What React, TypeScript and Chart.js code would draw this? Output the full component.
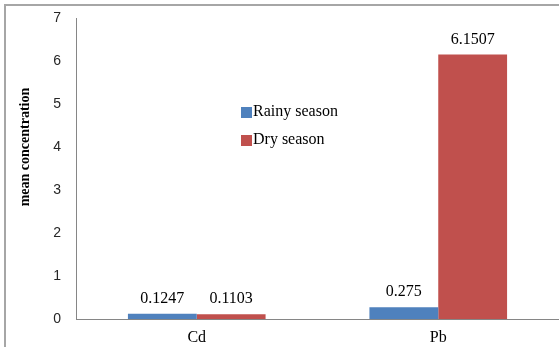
import React, { useEffect, useRef } from "react";
import { Chart, registerables } from "chart.js";

Chart.register(...registerables);

const categories = ["Cd", "Pb"];
const rainyValues = [0.1247, 0.275];
const dryValues = [0.1103, 6.1507];
const seriesNames = ["Rainy season", "Dry season"];
const seriesColors = ["#4F81BD", "#C0504D"];
const yTicks = [0, 1, 2, 3, 4, 5, 6, 7];
const yTitle = "mean concentration";

const SERIF = "'Liberation Serif', 'Times New Roman', serif";
const SANS = "'Liberation Sans', Arial, sans-serif";

// Frame, rotated axis title, in-plot legend and value labels
const decorations = {
  id: "decorations",
  beforeDraw(chart: any) {
    const ctx = chart.ctx;
    ctx.save();
    ctx.strokeStyle = "#A6A6A6";
    ctx.lineWidth = 2;
    ctx.beginPath();
    ctx.moveTo(4, 5);
    ctx.lineTo(chart.width, 5);
    ctx.moveTo(5, 4);
    ctx.lineTo(5, chart.height);
    ctx.stroke();
    ctx.restore();
  },
  afterDatasetsDraw(chart: any) {
    const ctx = chart.ctx;
    ctx.save();
    // value labels above bars
    ctx.font = `16px ${SERIF}`;
    ctx.fillStyle = "#000";
    ctx.textAlign = "center";
    ctx.textBaseline = "bottom";
    chart.data.datasets.forEach((ds: any, di: number) => {
      const meta = chart.getDatasetMeta(di);
      meta.data.forEach((bar: any, i: number) => {
        ctx.fillText(String(ds.data[i]), bar.x, bar.y - 7);
      });
    });

    // legend
    ctx.textAlign = "left";
    ctx.textBaseline = "middle";
    chart.data.datasets.forEach((ds: any, di: number) => {
      const y = 112 + di * 28;
      ctx.fillStyle = ds.backgroundColor;
      ctx.fillRect(241, y - 5, 11, 11);
      ctx.fillStyle = "#000";
      ctx.fillText(ds.label, 253, y);
    });

    // y axis title
    ctx.translate(25, 147);
    ctx.rotate(-Math.PI / 2);
    ctx.font = `bold 14px ${SERIF}`;
    ctx.textAlign = "center";
    ctx.textBaseline = "middle";
    ctx.fillStyle = "#000";
    ctx.fillText(yTitle, 0, 0);
    ctx.restore();
  },
};

export default function App() {
  const canvasRef = useRef<HTMLCanvasElement | null>(null);

  useEffect(() => {
    if (!canvasRef.current) return;
    const chart = new Chart(canvasRef.current, {
      type: "bar",
      data: {
        labels: categories,
        datasets: [
          {
            label: seriesNames[0],
            data: rainyValues,
            backgroundColor: seriesColors[0],
            categoryPercentage: 0.57,
            barPercentage: 1,
          },
          {
            label: seriesNames[1],
            data: dryValues,
            backgroundColor: seriesColors[1],
            categoryPercentage: 0.57,
            barPercentage: 1,
          },
        ],
      },
      options: {
        animation: false,
        responsive: true,
        maintainAspectRatio: false,
        layout: { padding: { top: 18, left: 0, right: 0, bottom: 0 } },
        plugins: {
          legend: { display: false },
          tooltip: { enabled: false },
        },
        scales: {
          x: {
            grid: { display: false, drawTicks: false },
            border: { display: true, color: "#868686", width: 1 },
            ticks: {
              padding: 9,
              color: "#000",
              font: { family: SERIF, size: 16 },
            },
            afterFit(scale: any) {
              scale.height = 28;
              scale.paddingLeft = 0;
              scale.paddingRight = 0;
            },
          },
          y: {
            min: yTicks[0],
            max: yTicks[yTicks.length - 1],
            grid: { display: false, drawTicks: false },
            border: { display: true, color: "#868686", width: 1 },
            afterBuildTicks(scale: any) {
              scale.ticks = yTicks.map((v) => ({ value: v }));
            },
            ticks: {
              padding: 15,
              color: "#262626",
              font: { family: SANS, size: 14 },
            },
            afterFit(scale: any) {
              scale.width = 76;
              scale.paddingTop = 0;
              scale.paddingBottom = 0;
            },
          },
        },
      },
      plugins: [decorations],
    });
    return () => chart.destroy();
  }, []);

  return (
    <div
      style={{
        position: "fixed",
        left: 0,
        top: 0,
        width: 559,
        height: 347,
        background: "#fff",
      }}
    >
      <canvas ref={canvasRef} />
    </div>
  );
}
